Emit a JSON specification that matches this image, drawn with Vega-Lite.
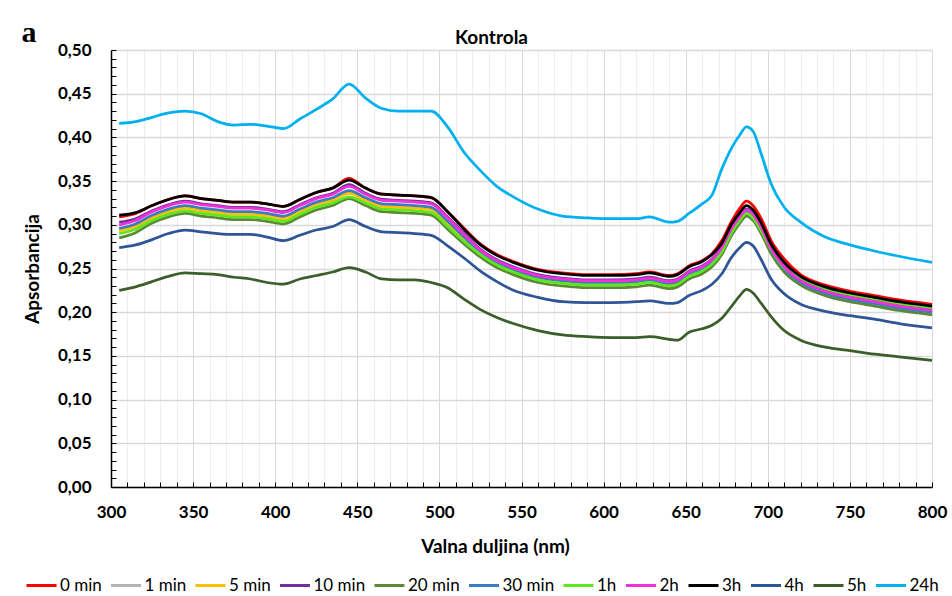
{
"$schema": "https://vega.github.io/schema/vega-lite/v6.json",
"width": 821, "height": 437,
"autosize": {"type": "none"},
"padding": {"left": 111, "top": 50, "right": 20, "bottom": 109},
"background": "white",
"config": {"view": {"stroke": null}, "font": "Lato"},
"title": {"text": "Kontrola", "font": "Lato", "fontSize": 19, "fontWeight": "bold", "color": "#000000", "anchor": "middle", "dx": -30, "dy": 36, "offset": 6},
"datasets": {
"tag": [{"w": 250, "a": 0.5095, "t": "a"}],
"spectra": [
{"w":305,"s":"0 min","a":0.309},{"w":315,"s":"0 min","a":0.313},{"w":325,"s":"0 min","a":0.322},{"w":335,"s":"0 min","a":0.329},{"w":345,"s":"0 min","a":0.333},{"w":355,"s":"0 min","a":0.330},{"w":365,"s":"0 min","a":0.328},{"w":375,"s":"0 min","a":0.326},{"w":385,"s":"0 min","a":0.326},{"w":395,"s":"0 min","a":0.324},{"w":405,"s":"0 min","a":0.321},{"w":415,"s":"0 min","a":0.329},{"w":425,"s":"0 min","a":0.337},{"w":435,"s":"0 min","a":0.342},{"w":445,"s":"0 min","a":0.353},{"w":455,"s":"0 min","a":0.342},{"w":465,"s":"0 min","a":0.335},{"w":475,"s":"0 min","a":0.334},{"w":485,"s":"0 min","a":0.333},{"w":495,"s":"0 min","a":0.331},{"w":505,"s":"0 min","a":0.315},{"w":515,"s":"0 min","a":0.296},{"w":525,"s":"0 min","a":0.278},{"w":535,"s":"0 min","a":0.266},{"w":545,"s":"0 min","a":0.258},{"w":560,"s":"0 min","a":0.249},{"w":575,"s":"0 min","a":0.245},{"w":590,"s":"0 min","a":0.243},{"w":605,"s":"0 min","a":0.243},{"w":620,"s":"0 min","a":0.244},{"w":628,"s":"0 min","a":0.246},{"w":640,"s":"0 min","a":0.242},{"w":645,"s":"0 min","a":0.244},{"w":652,"s":"0 min","a":0.253},{"w":660,"s":"0 min","a":0.259},{"w":666,"s":"0 min","a":0.267},{"w":672,"s":"0 min","a":0.282},{"w":678,"s":"0 min","a":0.304},{"w":683,"s":"0 min","a":0.319},{"w":687,"s":"0 min","a":0.327},{"w":691,"s":"0 min","a":0.322},{"w":696,"s":"0 min","a":0.307},{"w":702,"s":"0 min","a":0.282},{"w":710,"s":"0 min","a":0.261},{"w":720,"s":"0 min","a":0.243},{"w":735,"s":"0 min","a":0.231},{"w":750,"s":"0 min","a":0.224},{"w":765,"s":"0 min","a":0.219},{"w":780,"s":"0 min","a":0.214},{"w":800,"s":"0 min","a":0.209},
{"w":305,"s":"1 min","a":0.294},{"w":315,"s":"1 min","a":0.299},{"w":325,"s":"1 min","a":0.309},{"w":335,"s":"1 min","a":0.316},{"w":345,"s":"1 min","a":0.320},{"w":355,"s":"1 min","a":0.317},{"w":365,"s":"1 min","a":0.315},{"w":375,"s":"1 min","a":0.313},{"w":385,"s":"1 min","a":0.313},{"w":395,"s":"1 min","a":0.311},{"w":405,"s":"1 min","a":0.308},{"w":415,"s":"1 min","a":0.316},{"w":425,"s":"1 min","a":0.324},{"w":435,"s":"1 min","a":0.329},{"w":445,"s":"1 min","a":0.337},{"w":455,"s":"1 min","a":0.329},{"w":465,"s":"1 min","a":0.322},{"w":475,"s":"1 min","a":0.321},{"w":485,"s":"1 min","a":0.320},{"w":495,"s":"1 min","a":0.318},{"w":505,"s":"1 min","a":0.302},{"w":515,"s":"1 min","a":0.284},{"w":525,"s":"1 min","a":0.268},{"w":535,"s":"1 min","a":0.256},{"w":545,"s":"1 min","a":0.248},{"w":560,"s":"1 min","a":0.239},{"w":575,"s":"1 min","a":0.235},{"w":590,"s":"1 min","a":0.233},{"w":605,"s":"1 min","a":0.233},{"w":620,"s":"1 min","a":0.234},{"w":628,"s":"1 min","a":0.236},{"w":640,"s":"1 min","a":0.232},{"w":645,"s":"1 min","a":0.234},{"w":652,"s":"1 min","a":0.243},{"w":660,"s":"1 min","a":0.249},{"w":666,"s":"1 min","a":0.257},{"w":672,"s":"1 min","a":0.271},{"w":678,"s":"1 min","a":0.293},{"w":683,"s":"1 min","a":0.306},{"w":687,"s":"1 min","a":0.314},{"w":691,"s":"1 min","a":0.309},{"w":696,"s":"1 min","a":0.294},{"w":702,"s":"1 min","a":0.270},{"w":710,"s":"1 min","a":0.249},{"w":720,"s":"1 min","a":0.233},{"w":735,"s":"1 min","a":0.221},{"w":750,"s":"1 min","a":0.214},{"w":765,"s":"1 min","a":0.209},{"w":780,"s":"1 min","a":0.204},{"w":800,"s":"1 min","a":0.199},
{"w":305,"s":"5 min","a":0.293},{"w":315,"s":"5 min","a":0.298},{"w":325,"s":"5 min","a":0.308},{"w":335,"s":"5 min","a":0.315},{"w":345,"s":"5 min","a":0.319},{"w":355,"s":"5 min","a":0.316},{"w":365,"s":"5 min","a":0.314},{"w":375,"s":"5 min","a":0.312},{"w":385,"s":"5 min","a":0.312},{"w":395,"s":"5 min","a":0.310},{"w":405,"s":"5 min","a":0.307},{"w":415,"s":"5 min","a":0.315},{"w":425,"s":"5 min","a":0.323},{"w":435,"s":"5 min","a":0.328},{"w":445,"s":"5 min","a":0.336},{"w":455,"s":"5 min","a":0.328},{"w":465,"s":"5 min","a":0.321},{"w":475,"s":"5 min","a":0.320},{"w":485,"s":"5 min","a":0.319},{"w":495,"s":"5 min","a":0.317},{"w":505,"s":"5 min","a":0.301},{"w":515,"s":"5 min","a":0.283},{"w":525,"s":"5 min","a":0.267},{"w":535,"s":"5 min","a":0.255},{"w":545,"s":"5 min","a":0.247},{"w":560,"s":"5 min","a":0.238},{"w":575,"s":"5 min","a":0.234},{"w":590,"s":"5 min","a":0.232},{"w":605,"s":"5 min","a":0.232},{"w":620,"s":"5 min","a":0.233},{"w":628,"s":"5 min","a":0.235},{"w":640,"s":"5 min","a":0.231},{"w":645,"s":"5 min","a":0.233},{"w":652,"s":"5 min","a":0.242},{"w":660,"s":"5 min","a":0.248},{"w":666,"s":"5 min","a":0.256},{"w":672,"s":"5 min","a":0.270},{"w":678,"s":"5 min","a":0.292},{"w":683,"s":"5 min","a":0.306},{"w":687,"s":"5 min","a":0.314},{"w":691,"s":"5 min","a":0.309},{"w":696,"s":"5 min","a":0.294},{"w":702,"s":"5 min","a":0.272},{"w":710,"s":"5 min","a":0.251},{"w":720,"s":"5 min","a":0.238},{"w":735,"s":"5 min","a":0.226},{"w":750,"s":"5 min","a":0.219},{"w":765,"s":"5 min","a":0.214},{"w":780,"s":"5 min","a":0.209},{"w":800,"s":"5 min","a":0.204},
{"w":305,"s":"10 min","a":0.303},{"w":315,"s":"10 min","a":0.307},{"w":325,"s":"10 min","a":0.316},{"w":335,"s":"10 min","a":0.323},{"w":345,"s":"10 min","a":0.327},{"w":355,"s":"10 min","a":0.324},{"w":365,"s":"10 min","a":0.322},{"w":375,"s":"10 min","a":0.320},{"w":385,"s":"10 min","a":0.320},{"w":395,"s":"10 min","a":0.318},{"w":405,"s":"10 min","a":0.315},{"w":415,"s":"10 min","a":0.323},{"w":425,"s":"10 min","a":0.331},{"w":435,"s":"10 min","a":0.336},{"w":445,"s":"10 min","a":0.346},{"w":455,"s":"10 min","a":0.336},{"w":465,"s":"10 min","a":0.329},{"w":475,"s":"10 min","a":0.328},{"w":485,"s":"10 min","a":0.327},{"w":495,"s":"10 min","a":0.325},{"w":505,"s":"10 min","a":0.309},{"w":515,"s":"10 min","a":0.290},{"w":525,"s":"10 min","a":0.272},{"w":535,"s":"10 min","a":0.260},{"w":545,"s":"10 min","a":0.252},{"w":560,"s":"10 min","a":0.243},{"w":575,"s":"10 min","a":0.239},{"w":590,"s":"10 min","a":0.237},{"w":605,"s":"10 min","a":0.237},{"w":620,"s":"10 min","a":0.238},{"w":628,"s":"10 min","a":0.240},{"w":640,"s":"10 min","a":0.236},{"w":645,"s":"10 min","a":0.238},{"w":652,"s":"10 min","a":0.247},{"w":660,"s":"10 min","a":0.253},{"w":666,"s":"10 min","a":0.261},{"w":672,"s":"10 min","a":0.275},{"w":678,"s":"10 min","a":0.297},{"w":683,"s":"10 min","a":0.310},{"w":687,"s":"10 min","a":0.318},{"w":691,"s":"10 min","a":0.313},{"w":696,"s":"10 min","a":0.298},{"w":702,"s":"10 min","a":0.274},{"w":710,"s":"10 min","a":0.253},{"w":720,"s":"10 min","a":0.237},{"w":735,"s":"10 min","a":0.225},{"w":750,"s":"10 min","a":0.218},{"w":765,"s":"10 min","a":0.213},{"w":780,"s":"10 min","a":0.208},{"w":800,"s":"10 min","a":0.203},
{"w":305,"s":"20 min","a":0.285},{"w":315,"s":"20 min","a":0.291},{"w":325,"s":"20 min","a":0.302},{"w":335,"s":"20 min","a":0.309},{"w":345,"s":"20 min","a":0.313},{"w":355,"s":"20 min","a":0.310},{"w":365,"s":"20 min","a":0.308},{"w":375,"s":"20 min","a":0.306},{"w":385,"s":"20 min","a":0.306},{"w":395,"s":"20 min","a":0.304},{"w":405,"s":"20 min","a":0.301},{"w":415,"s":"20 min","a":0.309},{"w":425,"s":"20 min","a":0.317},{"w":435,"s":"20 min","a":0.322},{"w":445,"s":"20 min","a":0.330},{"w":455,"s":"20 min","a":0.322},{"w":465,"s":"20 min","a":0.315},{"w":475,"s":"20 min","a":0.314},{"w":485,"s":"20 min","a":0.313},{"w":495,"s":"20 min","a":0.311},{"w":505,"s":"20 min","a":0.295},{"w":515,"s":"20 min","a":0.278},{"w":525,"s":"20 min","a":0.263},{"w":535,"s":"20 min","a":0.251},{"w":545,"s":"20 min","a":0.243},{"w":560,"s":"20 min","a":0.234},{"w":575,"s":"20 min","a":0.230},{"w":590,"s":"20 min","a":0.228},{"w":605,"s":"20 min","a":0.228},{"w":620,"s":"20 min","a":0.229},{"w":628,"s":"20 min","a":0.231},{"w":640,"s":"20 min","a":0.227},{"w":645,"s":"20 min","a":0.229},{"w":652,"s":"20 min","a":0.238},{"w":660,"s":"20 min","a":0.244},{"w":666,"s":"20 min","a":0.252},{"w":672,"s":"20 min","a":0.266},{"w":678,"s":"20 min","a":0.288},{"w":683,"s":"20 min","a":0.302},{"w":687,"s":"20 min","a":0.310},{"w":691,"s":"20 min","a":0.305},{"w":696,"s":"20 min","a":0.290},{"w":702,"s":"20 min","a":0.267},{"w":710,"s":"20 min","a":0.246},{"w":720,"s":"20 min","a":0.231},{"w":735,"s":"20 min","a":0.219},{"w":750,"s":"20 min","a":0.212},{"w":765,"s":"20 min","a":0.207},{"w":780,"s":"20 min","a":0.202},{"w":800,"s":"20 min","a":0.197},
{"w":305,"s":"30 min","a":0.296},{"w":315,"s":"30 min","a":0.301},{"w":325,"s":"30 min","a":0.311},{"w":335,"s":"30 min","a":0.318},{"w":345,"s":"30 min","a":0.322},{"w":355,"s":"30 min","a":0.319},{"w":365,"s":"30 min","a":0.317},{"w":375,"s":"30 min","a":0.315},{"w":385,"s":"30 min","a":0.315},{"w":395,"s":"30 min","a":0.313},{"w":405,"s":"30 min","a":0.310},{"w":415,"s":"30 min","a":0.318},{"w":425,"s":"30 min","a":0.326},{"w":435,"s":"30 min","a":0.331},{"w":445,"s":"30 min","a":0.339},{"w":455,"s":"30 min","a":0.331},{"w":465,"s":"30 min","a":0.324},{"w":475,"s":"30 min","a":0.323},{"w":485,"s":"30 min","a":0.322},{"w":495,"s":"30 min","a":0.320},{"w":505,"s":"30 min","a":0.304},{"w":515,"s":"30 min","a":0.286},{"w":525,"s":"30 min","a":0.269},{"w":535,"s":"30 min","a":0.257},{"w":545,"s":"30 min","a":0.249},{"w":560,"s":"30 min","a":0.240},{"w":575,"s":"30 min","a":0.236},{"w":590,"s":"30 min","a":0.234},{"w":605,"s":"30 min","a":0.234},{"w":620,"s":"30 min","a":0.235},{"w":628,"s":"30 min","a":0.237},{"w":640,"s":"30 min","a":0.233},{"w":645,"s":"30 min","a":0.235},{"w":652,"s":"30 min","a":0.244},{"w":660,"s":"30 min","a":0.250},{"w":666,"s":"30 min","a":0.258},{"w":672,"s":"30 min","a":0.272},{"w":678,"s":"30 min","a":0.294},{"w":683,"s":"30 min","a":0.307},{"w":687,"s":"30 min","a":0.315},{"w":691,"s":"30 min","a":0.310},{"w":696,"s":"30 min","a":0.295},{"w":702,"s":"30 min","a":0.271},{"w":710,"s":"30 min","a":0.250},{"w":720,"s":"30 min","a":0.234},{"w":735,"s":"30 min","a":0.222},{"w":750,"s":"30 min","a":0.215},{"w":765,"s":"30 min","a":0.210},{"w":780,"s":"30 min","a":0.205},{"w":800,"s":"30 min","a":0.200},
{"w":305,"s":"1h","a":0.290},{"w":315,"s":"1h","a":0.295},{"w":325,"s":"1h","a":0.305},{"w":335,"s":"1h","a":0.312},{"w":345,"s":"1h","a":0.316},{"w":355,"s":"1h","a":0.313},{"w":365,"s":"1h","a":0.311},{"w":375,"s":"1h","a":0.309},{"w":385,"s":"1h","a":0.309},{"w":395,"s":"1h","a":0.307},{"w":405,"s":"1h","a":0.304},{"w":415,"s":"1h","a":0.312},{"w":425,"s":"1h","a":0.320},{"w":435,"s":"1h","a":0.325},{"w":445,"s":"1h","a":0.332},{"w":455,"s":"1h","a":0.325},{"w":465,"s":"1h","a":0.318},{"w":475,"s":"1h","a":0.317},{"w":485,"s":"1h","a":0.316},{"w":495,"s":"1h","a":0.314},{"w":505,"s":"1h","a":0.298},{"w":515,"s":"1h","a":0.281},{"w":525,"s":"1h","a":0.266},{"w":535,"s":"1h","a":0.254},{"w":545,"s":"1h","a":0.246},{"w":560,"s":"1h","a":0.237},{"w":575,"s":"1h","a":0.233},{"w":590,"s":"1h","a":0.231},{"w":605,"s":"1h","a":0.231},{"w":620,"s":"1h","a":0.232},{"w":628,"s":"1h","a":0.234},{"w":640,"s":"1h","a":0.230},{"w":645,"s":"1h","a":0.232},{"w":652,"s":"1h","a":0.241},{"w":660,"s":"1h","a":0.247},{"w":666,"s":"1h","a":0.255},{"w":672,"s":"1h","a":0.269},{"w":678,"s":"1h","a":0.291},{"w":683,"s":"1h","a":0.305},{"w":687,"s":"1h","a":0.313},{"w":691,"s":"1h","a":0.308},{"w":696,"s":"1h","a":0.293},{"w":702,"s":"1h","a":0.272},{"w":710,"s":"1h","a":0.251},{"w":720,"s":"1h","a":0.239},{"w":735,"s":"1h","a":0.227},{"w":750,"s":"1h","a":0.220},{"w":765,"s":"1h","a":0.215},{"w":780,"s":"1h","a":0.210},{"w":800,"s":"1h","a":0.205},
{"w":305,"s":"2h","a":0.300},{"w":315,"s":"2h","a":0.305},{"w":325,"s":"2h","a":0.315},{"w":335,"s":"2h","a":0.322},{"w":345,"s":"2h","a":0.326},{"w":355,"s":"2h","a":0.323},{"w":365,"s":"2h","a":0.321},{"w":375,"s":"2h","a":0.319},{"w":385,"s":"2h","a":0.319},{"w":395,"s":"2h","a":0.317},{"w":405,"s":"2h","a":0.314},{"w":415,"s":"2h","a":0.322},{"w":425,"s":"2h","a":0.330},{"w":435,"s":"2h","a":0.335},{"w":445,"s":"2h","a":0.344},{"w":455,"s":"2h","a":0.335},{"w":465,"s":"2h","a":0.328},{"w":475,"s":"2h","a":0.327},{"w":485,"s":"2h","a":0.326},{"w":495,"s":"2h","a":0.324},{"w":505,"s":"2h","a":0.308},{"w":515,"s":"2h","a":0.289},{"w":525,"s":"2h","a":0.271},{"w":535,"s":"2h","a":0.259},{"w":545,"s":"2h","a":0.251},{"w":560,"s":"2h","a":0.242},{"w":575,"s":"2h","a":0.238},{"w":590,"s":"2h","a":0.236},{"w":605,"s":"2h","a":0.236},{"w":620,"s":"2h","a":0.237},{"w":628,"s":"2h","a":0.239},{"w":640,"s":"2h","a":0.235},{"w":645,"s":"2h","a":0.237},{"w":652,"s":"2h","a":0.246},{"w":660,"s":"2h","a":0.252},{"w":666,"s":"2h","a":0.260},{"w":672,"s":"2h","a":0.274},{"w":678,"s":"2h","a":0.296},{"w":683,"s":"2h","a":0.309},{"w":687,"s":"2h","a":0.317},{"w":691,"s":"2h","a":0.312},{"w":696,"s":"2h","a":0.297},{"w":702,"s":"2h","a":0.273},{"w":710,"s":"2h","a":0.252},{"w":720,"s":"2h","a":0.236},{"w":735,"s":"2h","a":0.224},{"w":750,"s":"2h","a":0.217},{"w":765,"s":"2h","a":0.212},{"w":780,"s":"2h","a":0.207},{"w":800,"s":"2h","a":0.202},
{"w":305,"s":"3h","a":0.311},{"w":315,"s":"3h","a":0.314},{"w":325,"s":"3h","a":0.322},{"w":335,"s":"3h","a":0.329},{"w":345,"s":"3h","a":0.333},{"w":355,"s":"3h","a":0.330},{"w":365,"s":"3h","a":0.328},{"w":375,"s":"3h","a":0.326},{"w":385,"s":"3h","a":0.326},{"w":395,"s":"3h","a":0.324},{"w":405,"s":"3h","a":0.321},{"w":415,"s":"3h","a":0.329},{"w":425,"s":"3h","a":0.337},{"w":435,"s":"3h","a":0.342},{"w":445,"s":"3h","a":0.351},{"w":455,"s":"3h","a":0.342},{"w":465,"s":"3h","a":0.335},{"w":475,"s":"3h","a":0.334},{"w":485,"s":"3h","a":0.333},{"w":495,"s":"3h","a":0.331},{"w":505,"s":"3h","a":0.315},{"w":515,"s":"3h","a":0.295},{"w":525,"s":"3h","a":0.277},{"w":535,"s":"3h","a":0.265},{"w":545,"s":"3h","a":0.257},{"w":560,"s":"3h","a":0.248},{"w":575,"s":"3h","a":0.244},{"w":590,"s":"3h","a":0.242},{"w":605,"s":"3h","a":0.242},{"w":620,"s":"3h","a":0.243},{"w":628,"s":"3h","a":0.245},{"w":640,"s":"3h","a":0.241},{"w":645,"s":"3h","a":0.243},{"w":652,"s":"3h","a":0.252},{"w":660,"s":"3h","a":0.258},{"w":666,"s":"3h","a":0.266},{"w":672,"s":"3h","a":0.279},{"w":678,"s":"3h","a":0.301},{"w":683,"s":"3h","a":0.314},{"w":687,"s":"3h","a":0.322},{"w":691,"s":"3h","a":0.317},{"w":696,"s":"3h","a":0.302},{"w":702,"s":"3h","a":0.278},{"w":710,"s":"3h","a":0.257},{"w":720,"s":"3h","a":0.241},{"w":735,"s":"3h","a":0.229},{"w":750,"s":"3h","a":0.222},{"w":765,"s":"3h","a":0.217},{"w":780,"s":"3h","a":0.212},{"w":800,"s":"3h","a":0.207},
{"w":305,"s":"4h","a":0.274},{"w":315,"s":"4h","a":0.277},{"w":325,"s":"4h","a":0.283},{"w":335,"s":"4h","a":0.290},{"w":345,"s":"4h","a":0.294},{"w":355,"s":"4h","a":0.292},{"w":365,"s":"4h","a":0.290},{"w":375,"s":"4h","a":0.289},{"w":385,"s":"4h","a":0.289},{"w":395,"s":"4h","a":0.286},{"w":405,"s":"4h","a":0.282},{"w":415,"s":"4h","a":0.288},{"w":425,"s":"4h","a":0.294},{"w":435,"s":"4h","a":0.298},{"w":445,"s":"4h","a":0.306},{"w":455,"s":"4h","a":0.298},{"w":465,"s":"4h","a":0.292},{"w":475,"s":"4h","a":0.291},{"w":485,"s":"4h","a":0.290},{"w":495,"s":"4h","a":0.288},{"w":505,"s":"4h","a":0.276},{"w":515,"s":"4h","a":0.262},{"w":525,"s":"4h","a":0.247},{"w":535,"s":"4h","a":0.235},{"w":545,"s":"4h","a":0.225},{"w":560,"s":"4h","a":0.217},{"w":575,"s":"4h","a":0.212},{"w":590,"s":"4h","a":0.211},{"w":605,"s":"4h","a":0.211},{"w":620,"s":"4h","a":0.212},{"w":628,"s":"4h","a":0.213},{"w":640,"s":"4h","a":0.210},{"w":645,"s":"4h","a":0.211},{"w":652,"s":"4h","a":0.219},{"w":660,"s":"4h","a":0.225},{"w":666,"s":"4h","a":0.232},{"w":672,"s":"4h","a":0.244},{"w":678,"s":"4h","a":0.263},{"w":683,"s":"4h","a":0.274},{"w":687,"s":"4h","a":0.280},{"w":691,"s":"4h","a":0.276},{"w":696,"s":"4h","a":0.260},{"w":702,"s":"4h","a":0.238},{"w":710,"s":"4h","a":0.221},{"w":720,"s":"4h","a":0.209},{"w":735,"s":"4h","a":0.201},{"w":750,"s":"4h","a":0.196},{"w":765,"s":"4h","a":0.192},{"w":780,"s":"4h","a":0.187},{"w":800,"s":"4h","a":0.182},
{"w":305,"s":"5h","a":0.225},{"w":315,"s":"5h","a":0.229},{"w":325,"s":"5h","a":0.235},{"w":335,"s":"5h","a":0.241},{"w":345,"s":"5h","a":0.245},{"w":355,"s":"5h","a":0.244},{"w":365,"s":"5h","a":0.243},{"w":375,"s":"5h","a":0.240},{"w":385,"s":"5h","a":0.238},{"w":395,"s":"5h","a":0.234},{"w":405,"s":"5h","a":0.232},{"w":415,"s":"5h","a":0.238},{"w":425,"s":"5h","a":0.242},{"w":435,"s":"5h","a":0.246},{"w":445,"s":"5h","a":0.251},{"w":455,"s":"5h","a":0.246},{"w":465,"s":"5h","a":0.238},{"w":475,"s":"5h","a":0.237},{"w":485,"s":"5h","a":0.237},{"w":495,"s":"5h","a":0.234},{"w":505,"s":"5h","a":0.228},{"w":515,"s":"5h","a":0.215},{"w":525,"s":"5h","a":0.203},{"w":535,"s":"5h","a":0.194},{"w":545,"s":"5h","a":0.187},{"w":560,"s":"5h","a":0.179},{"w":575,"s":"5h","a":0.174},{"w":590,"s":"5h","a":0.172},{"w":605,"s":"5h","a":0.171},{"w":620,"s":"5h","a":0.171},{"w":628,"s":"5h","a":0.172},{"w":640,"s":"5h","a":0.169},{"w":645,"s":"5h","a":0.168},{"w":652,"s":"5h","a":0.177},{"w":660,"s":"5h","a":0.181},{"w":666,"s":"5h","a":0.185},{"w":672,"s":"5h","a":0.193},{"w":678,"s":"5h","a":0.207},{"w":683,"s":"5h","a":0.219},{"w":687,"s":"5h","a":0.226},{"w":691,"s":"5h","a":0.222},{"w":696,"s":"5h","a":0.210},{"w":702,"s":"5h","a":0.195},{"w":710,"s":"5h","a":0.179},{"w":720,"s":"5h","a":0.168},{"w":735,"s":"5h","a":0.160},{"w":750,"s":"5h","a":0.156},{"w":765,"s":"5h","a":0.152},{"w":780,"s":"5h","a":0.149},{"w":800,"s":"5h","a":0.145},
{"w":305,"s":"24h","a":0.416},{"w":315,"s":"24h","a":0.418},{"w":325,"s":"24h","a":0.423},{"w":335,"s":"24h","a":0.428},{"w":345,"s":"24h","a":0.430},{"w":355,"s":"24h","a":0.427},{"w":365,"s":"24h","a":0.418},{"w":375,"s":"24h","a":0.414},{"w":385,"s":"24h","a":0.415},{"w":395,"s":"24h","a":0.413},{"w":405,"s":"24h","a":0.410},{"w":415,"s":"24h","a":0.421},{"w":425,"s":"24h","a":0.432},{"w":435,"s":"24h","a":0.444},{"w":445,"s":"24h","a":0.461},{"w":455,"s":"24h","a":0.445},{"w":465,"s":"24h","a":0.433},{"w":475,"s":"24h","a":0.430},{"w":485,"s":"24h","a":0.430},{"w":495,"s":"24h","a":0.430},{"w":505,"s":"24h","a":0.412},{"w":515,"s":"24h","a":0.383},{"w":525,"s":"24h","a":0.362},{"w":535,"s":"24h","a":0.344},{"w":545,"s":"24h","a":0.332},{"w":560,"s":"24h","a":0.318},{"w":575,"s":"24h","a":0.310},{"w":590,"s":"24h","a":0.308},{"w":605,"s":"24h","a":0.307},{"w":620,"s":"24h","a":0.307},{"w":628,"s":"24h","a":0.309},{"w":640,"s":"24h","a":0.303},{"w":645,"s":"24h","a":0.304},{"w":652,"s":"24h","a":0.313},{"w":660,"s":"24h","a":0.324},{"w":666,"s":"24h","a":0.334},{"w":672,"s":"24h","a":0.364},{"w":678,"s":"24h","a":0.388},{"w":683,"s":"24h","a":0.403},{"w":687,"s":"24h","a":0.412},{"w":691,"s":"24h","a":0.407},{"w":696,"s":"24h","a":0.381},{"w":702,"s":"24h","a":0.347},{"w":710,"s":"24h","a":0.320},{"w":720,"s":"24h","a":0.303},{"w":735,"s":"24h","a":0.286},{"w":750,"s":"24h","a":0.277},{"w":765,"s":"24h","a":0.270},{"w":780,"s":"24h","a":0.264},{"w":800,"s":"24h","a":0.257}
]},
"layer": [
{"data": {"name": "spectra"},
 "mark": {"type": "line", "strokeWidth": 2.75, "interpolate": "monotone"},
 "encoding": {
  "x": {"field": "w", "type": "quantitative", "scale": {"domain": [300, 800], "nice": false, "zero": false},
   "axis": {"title": "Valna duljina (nm)", "tickCount": 200, "values": [300,310,320,330,340,350,360,370,380,390,400,410,420,430,440,450,460,470,480,490,500,510,520,530,540,550,560,570,580,590,600,610,620,630,640,650,660,670,680,690,700,710,720,730,740,750,760,770,780,790,800],
    "labelExpr": "datum.value % 50 === 0 ? datum.label : ''",
    "grid": true, "gridColor": {"condition": {"test": "datum.value % 50 === 0", "value": "#D9D9D9"}, "value": "#EEEEEE"}, "gridWidth": 1,
    "domainColor": "#000000", "domainWidth": 1.5, "tickColor": "#000000", "tickSize": -5, "tickWidth": 1,
    "labelFont": "Lato", "labelFontSize": 17, "labelFontWeight": "bold", "labelColor": "#000000", "labelPadding": 22, "labelFlush": false, "labelOverlap": false, "labelBound": false,
    "titleFont": "Lato", "titleFontSize": 19, "titleFontWeight": "bold", "titleColor": "#000000", "titlePadding": 17, "titleX": 384}},
  "y": {"field": "a", "type": "quantitative", "scale": {"domain": [0, 0.5], "nice": false},
   "axis": {"title": "Apsorbancija", "tickCount": 200, "values": [0,0.01,0.02,0.03,0.04,0.05,0.06,0.07,0.08,0.09,0.1,0.11,0.12,0.13,0.14,0.15,0.16,0.17,0.18,0.19,0.2,0.21,0.22,0.23,0.24,0.25,0.26,0.27,0.28,0.29,0.3,0.31,0.32,0.33,0.34,0.35,0.36,0.37,0.38,0.39,0.4,0.41,0.42,0.43,0.44,0.45,0.46,0.47,0.48,0.49,0.5],
    "labelExpr": "round(datum.value*100) % 5 === 0 ? replace(format(datum.value, '.2f'), '.', ',') : ''",
    "grid": true, "gridColor": {"condition": {"test": "round(datum.value*100) % 5 === 0", "value": "#D9D9D9"}, "value": "rgba(0,0,0,0)"}, "gridWidth": 1.5,
    "domainColor": "#000000", "domainWidth": 1.5, "tickColor": "#000000", "tickSize": -5, "tickWidth": 1,
    "labelFont": "Lato", "labelFontSize": 17, "labelFontWeight": "bold", "labelColor": "#000000", "labelPadding": 25, "labelOverlap": false, "labelBound": false,
    "titleFont": "Lato", "titleFontSize": 19, "titleFontWeight": "bold", "titleColor": "#000000", "titlePadding": 15}},
  "color": {"field": "s", "type": "nominal",
   "scale": {"domain": ["0 min","1 min","5 min","10 min","20 min","30 min","1h","2h","3h","4h","5h","24h"],
             "range": ["#FF0000","#B4B4B4","#FFC000","#7030A0","#5A8A35","#3A7DC0","#5EE61E","#F030D8","#000000","#2F5597","#3B5E2B","#00B0F0"]},
   "legend": {"orient": "none", "legendX": -86, "legendY": 519, "direction": "horizontal", "columns": 12, "gridAlign": "none", "title": null,
              "symbolType": "stroke", "symbolStrokeWidth": 3, "symbolSize": 900, "labelFont": "Lato", "labelFontSize": 17, "labelColor": "#000000",
              "columnPadding": 2.5, "labelOffset": 2, "padding": 0}}
 }},
{"data": {"name": "tag"},
 "mark": {"type": "text", "font": "Liberation Serif", "fontWeight": "bold", "fontSize": 30, "align": "center", "baseline": "alphabetic", "color": "#000000"},
 "encoding": {"x": {"field": "w", "type": "quantitative"}, "y": {"field": "a", "type": "quantitative"}, "text": {"field": "t"}}}
]
}
